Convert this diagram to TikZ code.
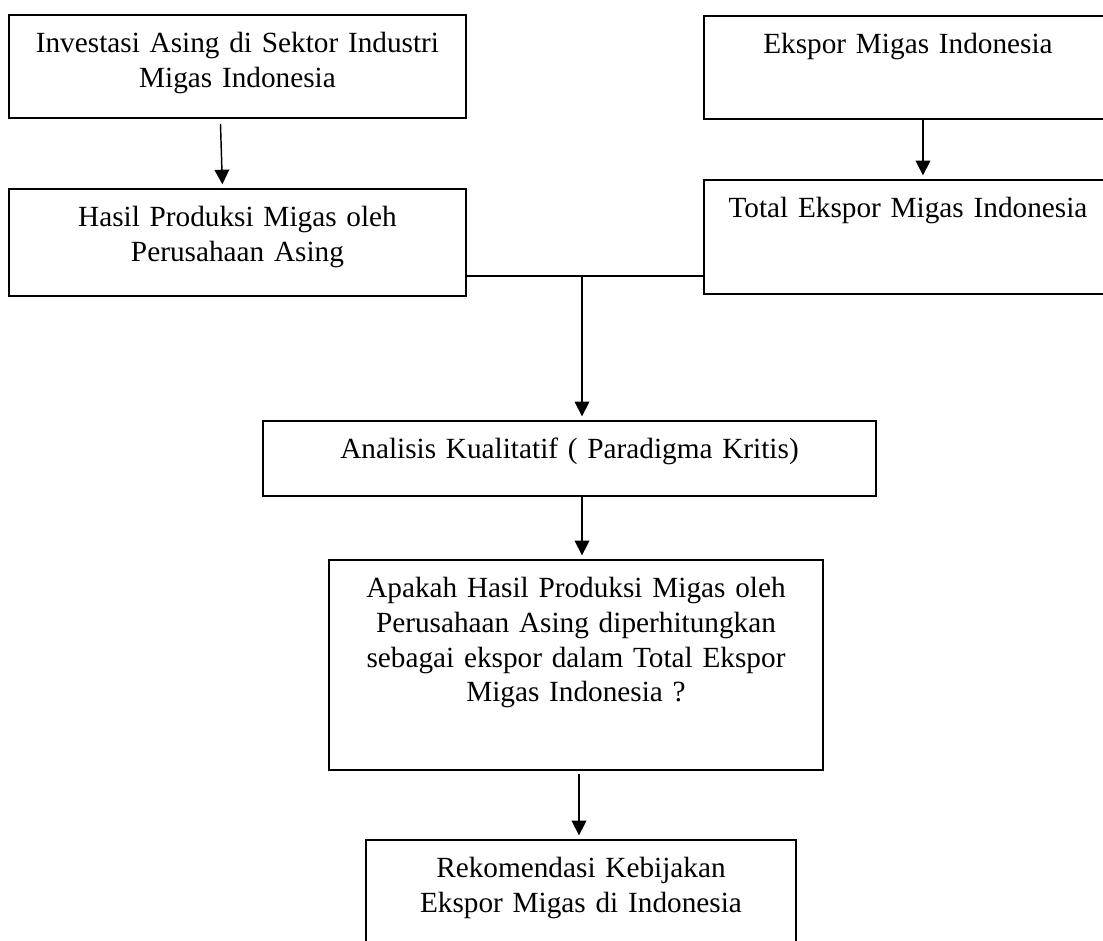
\documentclass[tikz,border=0pt]{standalone}
\usepackage{fontspec}
\setmainfont{Liberation Serif}
\usetikzlibrary{arrows.meta,calc}
\newdimen\pxu \pxu=0.41pt
\tikzset{
  box/.style={draw=black,line width=.8pt,anchor=north west,align=center,
    inner sep=0pt,text height=38\pxu,font=\fontsize{12}{14.15}\selectfont},
  flow/.style={-{Triangle[width=6pt,length=6pt]},draw=black,line width=.6pt,shorten >=1.5pt},
  link/.style={draw=black,line width=.6pt},
}

\begin{document}
\begin{tikzpicture}[x=0.41pt,y=-0.41pt]
\clip (0,0) rectangle (1103,940);
% left column
\node[box,text width=457\pxu,text depth=65\pxu] (invest) at (8,14) {Investasi Asing di Sektor Industri\\Migas Indonesia};
\node[box,text width=457\pxu,text depth=69\pxu] (produksi) at (8,188) {Hasil Produksi Migas oleh\\Perusahaan Asing};
% right column
\node[box,text width=408\pxu,text depth=65\pxu] (ekspor) at (703,15) {Ekspor Migas Indonesia};
\node[box,text width=408\pxu,text depth=76\pxu] (total) at (703,179) {Total Ekspor Migas Indonesia};
% middle
\node[box,text width=613\pxu,text depth=37\pxu] (analisis) at (262,420) {Analisis Kualitatif ( Paradigma Kritis)};
\node[box,text width=494\pxu,text depth=172\pxu] (apakah) at (328,559) {Apakah Hasil Produksi Migas oleh\\Perusahaan Asing diperhitungkan\\sebagai ekspor dalam Total Ekspor\\Migas Indonesia ?};
\node[box,text width=430\pxu,text depth=100\pxu] (rekom) at (365,839) {Rekomendasi Kebijakan\\Ekspor Migas di Indonesia};
\coordinate (join) at (582,276);
\draw[flow] ($(invest.south)+(-17,5)$) -- ($(produksi.north)+(-15,0)$);
\draw[flow] ($(ekspor.south)+(15,0)$) -- ($(total.north)+(15,0)$);
\draw[link] (join -| produksi.east) -- (join -| total.west);
\draw[flow] (join) -- (join |- analisis.north);
\draw[flow] (analisis.south -| join) -- (apakah.north -| join);
\draw[flow] ($(apakah.south -| join)+(-3,3)$) -- ($(rekom.north -| join)+(-3,0)$);
\end{tikzpicture}
\end{document}
